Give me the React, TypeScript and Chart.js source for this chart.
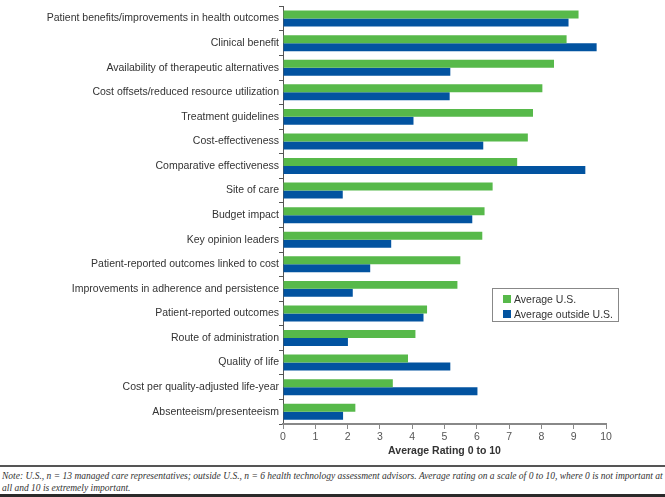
import React, { useEffect, useRef } from "react";
import { Chart, registerables } from "chart.js";

Chart.register(...registerables);

const categories = [
  "Patient benefits/improvements in health outcomes",
  "Clinical benefit",
  "Availability of therapeutic alternatives",
  "Cost offsets/reduced resource utilization",
  "Treatment guidelines",
  "Cost-effectiveness",
  "Comparative effectiveness",
  "Site of care",
  "Budget impact",
  "Key opinion leaders",
  "Patient-reported outcomes linked to cost",
  "Improvements in adherence and persistence",
  "Patient-reported outcomes",
  "Route of administration",
  "Quality of life",
  "Cost per quality-adjusted life-year",
  "Absenteeism/presenteeism",
];

const averageUS = [9.15, 8.78, 8.39, 8.03, 7.74, 7.58, 7.25, 6.49, 6.24, 6.17, 5.49, 5.4, 4.46, 4.1, 3.87, 3.4, 2.24];
const averageOutsideUS = [8.84, 9.71, 5.18, 5.16, 4.04, 6.2, 9.36, 1.85, 5.86, 3.35, 2.7, 2.16, 4.35, 2.01, 5.18, 6.02, 1.86];

const seriesLabels = ["Average U.S.", "Average outside U.S."];
const xTicks = [0, 1, 2, 3, 4, 5, 6, 7, 8, 9, 10];
const axisTitle = "Average Rating 0 to 10";

const GREEN = "#57B94A";
const BLUE = "#0253A0";
const FONT = "'Liberation Sans', Arial, sans-serif";

export default function App() {
  const ref = useRef<HTMLCanvasElement | null>(null);

  useEffect(() => {
    if (!ref.current) return;
    const chart = new Chart(ref.current, {
      type: "bar",
      data: {
        labels: categories,
        datasets: [
          { label: seriesLabels[0], data: averageUS, backgroundColor: GREEN, borderWidth: 0, categoryPercentage: 0.65, barPercentage: 1 },
          { label: seriesLabels[1], data: averageOutsideUS, backgroundColor: BLUE, borderWidth: 0, categoryPercentage: 0.65, barPercentage: 1 },
        ],
      },
      options: {
        indexAxis: "y",
        responsive: false,
        animation: false,
        devicePixelRatio: 1,
        layout: { padding: { left: 0, right: 59, top: 0, bottom: 0 } },
        plugins: { legend: { display: false }, tooltip: { enabled: false } },
        scales: {
          y: {
            type: "category",
            grid: { display: true, drawOnChartArea: false, drawTicks: true, tickLength: 4, color: "#555", offset: true },
            border: { display: true, color: "#555", width: 1 },
            ticks: { font: { family: FONT, size: 10.5 }, color: "#333", padding: 0, autoSkip: false },
            afterFit: (s: any) => { s.width = 283; },
          },
          x: {
            type: "linear",
            min: 0,
            max: 10,
            afterBuildTicks: (s: any) => { s.ticks = xTicks.map((v) => ({ value: v })); },
            grid: { display: true, drawOnChartArea: false, drawTicks: true, tickLength: 5, color: "#888" },
            border: { display: true, color: "#888", width: 2 },
            ticks: { font: { family: FONT, size: 10.5 }, color: "#555", padding: 2 },
            title: { display: true, text: axisTitle, font: { family: FONT, size: 10.5, weight: "bold" }, color: "#333", padding: { top: 1, bottom: 5 } },
            afterFit: (s: any) => { s.height = 38; },
          },
        },
      },
    });
    return () => chart.destroy();
  }, []);

  return (
    <div style={{ position: "absolute", left: 0, top: 0, width: 665, height: 497, background: "#fff", overflow: "hidden" }}>
      <canvas ref={ref} width={665} height={462} style={{ position: "absolute", left: 0, top: 0, width: 665, height: 462 }} />
      <div
        style={{
          position: "absolute", left: 492, top: 288, width: 127, height: 34, border: "1px solid #888",
          fontFamily: FONT, fontSize: 10.5, color: "#333", boxSizing: "border-box",
        }}
      >
        {seriesLabels.map((l, i) => (
          <div key={l} style={{ position: "absolute", left: 10, top: 4 + i * 15, height: 12, display: "flex", alignItems: "center", whiteSpace: "nowrap" }}>
            <span style={{ display: "inline-block", width: 8, height: 8, background: i === 0 ? GREEN : BLUE, marginRight: 3 }} />
            <span>{l}</span>
          </div>
        ))}
      </div>
      <div style={{ position: "absolute", left: 0, top: 465, width: 665, height: 1.5, background: "#555" }} />
      <div
        style={{
          position: "absolute", left: 2, top: 470, width: 662, fontFamily: "'Liberation Serif', 'Times New Roman', serif",
          fontStyle: "italic", fontSize: 9.5, lineHeight: "12px", color: "#333", whiteSpace: "nowrap",
        }}
      >
        Note: U.S., <i>n</i> = 13 managed care representatives; outside U.S., <i>n</i> = 6 health technology assessment advisors. Average rating on a scale of 0 to 10, where 0 is not important at
        <br />
        all and 10 is extremely important.
      </div>
      <div style={{ position: "absolute", left: 0, top: 494, width: 665, height: 3, background: "#2a2a2a" }} />
    </div>
  );
}
